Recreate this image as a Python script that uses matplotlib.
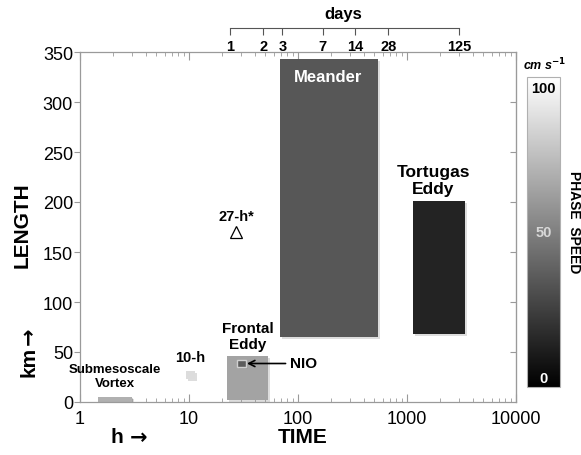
import numpy as np
import matplotlib
matplotlib.use("Agg")
import matplotlib.pyplot as plt
from matplotlib.patches import Rectangle
from matplotlib import patheffects as pe
from matplotlib.colors import Normalize
from matplotlib.cm import ScalarMappable

plt.rcParams['font.family'] = ['Liberation Sans', 'DejaVu Sans']

# Features: time range (h), length range (km), phase speed (cm/s)
features = ["Submesoscale Vortex", "10-h", "Frontal Eddy", "NIO", "Meander", "Tortugas Eddy"]
t_lo = [1.45, 9.4, 22.5, 27.6, 68, 1135]
t_hi = [3.0, 11.4, 53, 33.3, 540, 3400]
l_lo = [0, 23, 2, 35, 65, 68]
l_hi = [5, 31, 46, 42, 343, 201]
speed = [69, 86, 64, 36, 34, 14]

# 27-h oscillation point
tri_t = [27]
tri_l = [170]

# days axis
day_ticks = [1, 2, 3, 7, 14, 28, 125]

# axis ticks
y_ticks = [0, 50, 100, 150, 200, 250, 300, 350]
x_ticks = [1, 10, 100, 1000, 10000]

cmap = plt.get_cmap('gray')
norm = Normalize(0, 100)

W, H = 581, 456
fig = plt.figure(figsize=(W / 100, H / 100), dpi=100)
ax = fig.add_axes([80 / W, 53 / H, 436 / W, 350 / H])
ax.set_xscale('log')
ax.set_xlim(1, 10000)
ax.set_ylim(0, 350)

spine_c = '#9a9a9a'
for s in ax.spines.values():
    s.set_color(spine_c)
    s.set_linewidth(0.9)

ax.set_yticks(y_ticks)
ax.set_yticklabels([str(v) for v in y_ticks], fontsize=13)
ax.set_xticks(x_ticks)
ax.set_xticklabels([str(v) for v in x_ticks], fontsize=13)
ax.tick_params(axis='y', direction='out', length=4, color=spine_c, pad=1)
ax.tick_params(axis='x', which='both', direction='in', top=True, bottom=True,
               color=spine_c, pad=6)
ax.tick_params(axis='x', which='major', length=6)
ax.tick_params(axis='x', which='minor', length=3)

# right-hand inward ticks
sec = ax.secondary_yaxis('right')
sec.set_yticks(y_ticks[1:-1])
sec.tick_params(direction='in', length=4, color=spine_c, labelright=False)
sec.spines['right'].set_color(spine_c)

shadow = [pe.SimplePatchShadow(offset=(1.5, -1.5), shadow_rgbFace='#909090', alpha=0.3),
          pe.Normal()]

for i, name in enumerate(features):
    rect = Rectangle((t_lo[i], l_lo[i]), t_hi[i] - t_lo[i], l_hi[i] - l_lo[i],
                     facecolor=cmap(norm(speed[i])),
                     edgecolor='#d0d0d0' if name == "NIO" else 'none',
                     linewidth=1.0, zorder=3 if name == "NIO" else 2,
                     path_effects=shadow)
    ax.add_patch(rect)

ax.plot(tri_t, tri_l, marker='^', markersize=9, markerfacecolor='white',
        markeredgecolor='black', markeredgewidth=0.9, linestyle='none', zorder=4)

bold = dict(fontweight='bold', ha='center', va='center')
ax.text(2.1, 26, "Submesoscale\nVortex", fontsize=9.5, linespacing=1.25, **bold)
ax.text(10.3, 45, "10-h", fontsize=10.5, **bold)
ax.text(27, 186, "27-h*", fontsize=10.5, **bold)
ax.text(34.5, 66, "Frontal\nEddy", fontsize=11, linespacing=1.15, **bold)
ax.text(190, 326, "Meander", fontsize=12, color='white', **bold)
ax.text(1750, 222, "Tortugas\nEddy", fontsize=12.5, linespacing=1.1, **bold)
ax.annotate("NIO", xy=(34, 38.5), xytext=(84, 38.5), fontsize=11, fontweight='bold',
            ha='left', va='center',
            arrowprops=dict(arrowstyle='->', color='black', lw=1.2,
                            shrinkA=1, shrinkB=0))

# days axis above the plot
dax = fig.add_axes([80 / W, (H - 29) / H, 436 / W, 1e-6])
dax.set_xscale('log')
dax.set_xlim(1, 10000)
dax.set_yticks([])
for k in ('top', 'left', 'right'):
    dax.spines[k].set_visible(False)
dax.spines['bottom'].set_bounds(24 * day_ticks[0], 24 * day_ticks[-1])
dax.spines['bottom'].set_color('#555555')
dax.set_xticks([24 * d for d in day_ticks])
dax.set_xticklabels([str(d) for d in day_ticks], fontsize=10.5, fontweight='bold')
dax.xaxis.set_minor_locator(matplotlib.ticker.NullLocator())
dax.tick_params(axis='x', direction='out', length=5, color='#555555', pad=3)
fig.text(343 / W, 1 - 15 / H, "days", fontsize=12, **bold)

# axis labels
arrow_font = dict(family=['DejaVu Sans'], fontweight='bold', ha='center', va='center')
fig.text(22 / W, 1 - 225 / H, "LENGTH", fontsize=15, rotation=90, **bold)
fig.text(29 / W, 1 - 362 / H, "km", fontsize=15, rotation=90, **bold)
fig.text(29 / W, 1 - 336 / H, "\u2192", fontsize=15, rotation=90, **arrow_font)
fig.text(117 / W, 1 - 438 / H, "h", fontsize=15, **bold)
fig.text(139 / W, 1 - 438 / H, "\u2192", fontsize=15, **arrow_font)
fig.text(303 / W, 1 - 438 / H, "TIME", fontsize=15, **bold)

# phase-speed colour bar
cax = fig.add_axes([527 / W, (H - 388) / H, 33 / W, 310 / H])
cb = fig.colorbar(ScalarMappable(norm=norm, cmap=cmap), cax=cax)
cb.set_ticks([])
cb.outline.set_edgecolor('#b0b0b0')
cb.outline.set_linewidth(0.8)
cax.text(0.5, 96.3, "100", fontsize=10.5, color='black', **bold)
cax.text(0.5, 50, "50", fontsize=10.5, color='#d8d8d8', **bold)
cax.text(0.5, 3, "0", fontsize=10.5, color='white', **bold)
fig.text(545 / W, 1 - 65 / H, "cm s$^{\\mathbf{-1}}$", fontsize=9, fontstyle='italic',
         **bold)
fig.text(574 / W, 1 - 222 / H, "PHASE  SPEED", fontsize=10, rotation=-90, **bold)

fig.savefig("out.png", dpi=100)
